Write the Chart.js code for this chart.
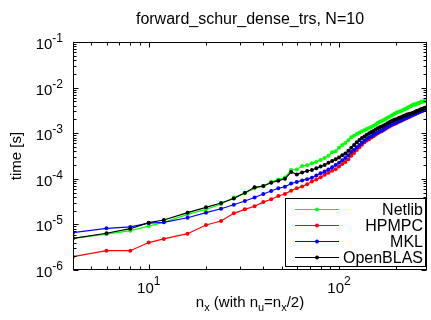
<!DOCTYPE html>
<html>
<head>
<meta charset="utf-8">
<script src="https://cdn.jsdelivr.net/npm/chart.js@4/dist/chart.umd.min.js"></script>
<style>
  html, body { margin: 0; padding: 0; background: #fff; }
  #wrap { width: 431px; height: 320px; }
</style>
</head>
<body>
<div id="wrap"><canvas id="myChart" width="431" height="320"></canvas></div>
<script>
// n_x values
const nx = [4, 6, 8, 10, 12, 16, 20, 24, 28, 32, 36, 40, 44, 48, 52, 56, 60, 64, 68, 72,
  76, 80, 84, 88, 92, 96, 100, 104, 108, 112, 116, 120, 124, 128, 132, 136, 140, 144, 148, 152,
  156, 160, 164, 168, 172, 176, 180, 184, 188, 192, 196, 200, 204, 208, 212, 216, 220, 224, 228, 232,
  236, 240, 244, 248, 252, 256, 260, 264, 268, 272, 276, 280, 284, 288];

const netlib = [4.95e-6, 6.1e-6, 7.3e-6, 9.2e-6, 1.11e-5, 1.66e-5, 2.14e-5, 2.8e-5, 3.9e-5, 4.8e-5,
  6.2e-5, 6.9e-5, 8.6e-5, 9.6e-5, 1.07e-4, 1.56e-4, 1.6e-4, 1.9e-4, 1.98e-4, 2.2e-4,
  2.35e-4, 2.6e-4, 2.85e-4, 3.2e-4, 3.8e-4, 4.0e-4, 4.8e-4, 5.5e-4, 6.1e-4, 7.0e-4,
  8.2e-4, 8.8e-4, 9.6e-4, 1.03e-3, 1.1e-3, 1.16e-3, 1.24e-3, 1.3e-3, 1.36e-3, 1.45e-3,
  1.55e-3, 1.68e-3, 1.79e-3, 1.86e-3, 1.95e-3, 2.05e-3, 2.18e-3, 2.3e-3, 2.42e-3, 2.55e-3,
  2.68e-3, 2.8e-3, 2.9e-3, 3.0e-3, 3.08e-3, 3.2e-3, 3.3e-3, 3.4e-3, 3.55e-3, 3.7e-3,
  3.85e-3, 4.0e-3, 4.16e-3, 4.3e-3, 4.2e-3, 4.45e-3, 4.55e-3, 4.65e-3, 4.75e-3, 4.85e-3,
  4.95e-3, 5.05e-3, 5.1e-3, 5.2e-3];

const hpmpc = [1.96e-6, 2.65e-6, 2.65e-6, 4.0e-6, 4.8e-6, 6.25e-6, 9.7e-6, 1.19e-5, 1.75e-5, 2.14e-5,
  2.5e-5, 3.08e-5, 3.55e-5, 4.2e-5, 4.65e-5, 5.5e-5, 6.2e-5, 6.8e-5, 7.6e-5, 8.7e-5,
  9.6e-5, 1.08e-4, 1.22e-4, 1.35e-4, 1.5e-4, 1.62e-4, 1.85e-4, 2.1e-4, 2.35e-4, 2.7e-4,
  3.2e-4, 3.7e-4, 4.3e-4, 4.9e-4, 5.6e-4, 6.3e-4, 6.9e-4, 7.4e-4, 8.0e-4, 8.6e-4,
  9.3e-4, 1.0e-3, 1.06e-3, 1.1e-3, 1.18e-3, 1.25e-3, 1.33e-3, 1.4e-3, 1.48e-3, 1.55e-3,
  1.6e-3, 1.66e-3, 1.74e-3, 1.81e-3, 1.88e-3, 1.95e-3, 2.02e-3, 2.1e-3, 2.18e-3, 2.25e-3,
  2.33e-3, 2.42e-3, 2.5e-3, 2.58e-3, 2.66e-3, 2.74e-3, 2.82e-3, 2.9e-3, 2.98e-3, 3.06e-3,
  3.14e-3, 3.22e-3, 3.3e-3, 3.36e-3];

const mkl = [6.6e-6, 8.2e-6, 8.8e-6, 1.07e-5, 1.11e-5, 1.4e-5, 1.81e-5, 2.2e-5, 2.7e-5, 3.26e-5,
  3.9e-5, 4.65e-5, 5.4e-5, 6.2e-5, 6.7e-5, 7.9e-5, 8.5e-5, 9.2e-5, 9.8e-5, 1.05e-4,
  1.18e-4, 1.32e-4, 1.45e-4, 1.6e-4, 1.8e-4, 2.0e-4, 2.25e-4, 2.55e-4, 2.85e-4, 3.3e-4,
  3.85e-4, 4.3e-4, 4.9e-4, 5.5e-4, 6.2e-4, 6.8e-4, 7.5e-4, 8.1e-4, 8.6e-4, 9.2e-4,
  9.8e-4, 1.04e-3, 1.1e-3, 1.15e-3, 1.22e-3, 1.3e-3, 1.38e-3, 1.45e-3, 1.53e-3, 1.6e-3,
  1.66e-3, 1.72e-3, 1.8e-3, 1.86e-3, 1.93e-3, 2.0e-3, 2.08e-3, 2.15e-3, 2.22e-3, 2.3e-3,
  2.38e-3, 2.45e-3, 2.52e-3, 2.6e-3, 2.68e-3, 2.75e-3, 2.83e-3, 2.92e-3, 3.0e-3, 3.08e-3,
  3.16e-3, 3.24e-3, 3.3e-3, 3.38e-3];

const openblas = [4.95e-6, 6.4e-6, 8.05e-6, 1.09e-5, 1.25e-5, 1.81e-5, 2.37e-5, 2.95e-5, 3.7e-5, 4.95e-5,
  6.5e-5, 6.95e-5, 8.2e-5, 9.1e-5, 1.0e-4, 1.41e-4, 1.25e-4, 1.38e-4, 1.48e-4, 1.56e-4,
  1.7e-4, 1.85e-4, 2.0e-4, 2.25e-4, 2.45e-4, 2.7e-4, 2.95e-4, 3.3e-4, 3.6e-4, 4.1e-4,
  4.8e-4, 5.5e-4, 6.3e-4, 7.1e-4, 7.8e-4, 8.5e-4, 9.3e-4, 1.0e-3, 1.06e-3, 1.12e-3,
  1.2e-3, 1.28e-3, 1.35e-3, 1.4e-3, 1.48e-3, 1.56e-3, 1.65e-3, 1.74e-3, 1.83e-3, 1.9e-3,
  1.96e-3, 2.02e-3, 2.1e-3, 2.18e-3, 2.25e-3, 2.32e-3, 2.4e-3, 2.48e-3, 2.56e-3, 2.62e-3,
  2.68e-3, 2.72e-3, 2.78e-3, 2.86e-3, 2.95e-3, 3.05e-3, 3.12e-3, 3.2e-3, 3.3e-3, 3.38e-3,
  3.45e-3, 3.52e-3, 3.6e-3, 3.66e-3];

const seriesNames = ["Netlib", "HPMPC", "MKL", "OpenBLAS"];
const seriesColors = ["#00ff00", "#ff0000", "#0000ff", "#000000"];
const yTickExps = [-6, -5, -4, -3, -2, -1];
const xTickExps = [1, 2];
const xMin = 4, xMax = 290, yMin = 1e-6, yMax = 1e-1;

const FONT = '"Liberation Sans", Arial, Helvetica, sans-serif';

function pts(ys) {
  return nx.map((v, i) => ({ x: v, y: ys[i] }));
}

// draws the matlab style box, inward ticks, power labels, titles and legend
const matlabAxes = {
  id: "matlabAxes",
  afterDraw(chart) {
    const ctx = chart.ctx;
    const a = chart.chartArea;
    const xs = chart.scales.x, ys = chart.scales.y;
    const L = Math.round(a.left) + 0.5, R = Math.round(a.right) - 0.5;
    const T = Math.round(a.top) + 0.5, B = Math.round(a.bottom) - 0.5;
    ctx.save();
    ctx.strokeStyle = "#000";
    ctx.lineWidth = 1;
    ctx.strokeRect(L, T, R - L, B - T);

    ctx.beginPath();
    // y ticks
    for (let e = -6; e <= -1; e++) {
      for (let m = 1; m <= 9; m++) {
        const v = m * Math.pow(10, e);
        if (v > yMax * 1.0001) break;
        const p = Math.round(ys.getPixelForValue(v)) + 0.5;
        const len = m === 1 ? 5 : 3;
        ctx.moveTo(L, p); ctx.lineTo(L + len, p);
        ctx.moveTo(R, p); ctx.lineTo(R - len, p);
      }
    }
    // x ticks
    for (let e = 0; e <= 2; e++) {
      for (let m = 1; m <= 9; m++) {
        const v = m * Math.pow(10, e);
        if (v < xMin || v > xMax) continue;
        const p = Math.round(xs.getPixelForValue(v)) + 0.5;
        const len = m === 1 ? 5 : 3;
        ctx.moveTo(p, B); ctx.lineTo(p, B - len);
        ctx.moveTo(p, T); ctx.lineTo(p, T + len);
      }
    }
    ctx.stroke();

    ctx.fillStyle = "#000";
    // y tick labels 10^e
    yTickExps.forEach(e => {
      const p = ys.getPixelForValue(Math.pow(10, e));
      ctx.font = "12px " + FONT;
      ctx.textAlign = "right";
      ctx.textBaseline = "alphabetic";
      const sup = String(e);
      ctx.fillText(sup, 63, p);
      const sw = ctx.measureText(sup).width;
      ctx.font = "15px " + FONT;
      ctx.fillText("10", 63 - sw, p + 7);
    });
    // x tick labels
    xTickExps.forEach(e => {
      const p = xs.getPixelForValue(Math.pow(10, e));
      ctx.font = "15px " + FONT;
      ctx.textAlign = "left";
      const w = ctx.measureText("10").width;
      ctx.font = "12px " + FONT;
      const sw = ctx.measureText(String(e)).width;
      const x0 = p - (w + sw) / 2;
      ctx.font = "15px " + FONT;
      ctx.fillText("10", x0, 293);
      ctx.font = "12px " + FONT;
      ctx.fillText(String(e), x0 + w, 285);
    });

    // title
    ctx.font = "16px " + FONT;
    ctx.textAlign = "center";
    ctx.fillText("forward_schur_dense_trs, N=10", (a.left + a.right) / 2, 24);

    // x axis title with subscripts
    const parts = [["n", 0], ["x", 1], [" (with n", 0], ["u", 1], ["=n", 0], ["x", 1], ["/2)", 0]];
    let total = 0;
    parts.forEach(([s, sub]) => {
      ctx.font = (sub ? "11px " : "15px ") + FONT;
      total += ctx.measureText(s).width;
    });
    let cx = (a.left + a.right) / 2 - total / 2;
    ctx.textAlign = "left";
    parts.forEach(([s, sub]) => {
      ctx.font = (sub ? "11px " : "15px ") + FONT;
      ctx.fillText(s, cx, sub ? 311 : 307);
      cx += ctx.measureText(s).width;
    });

    // y axis title
    ctx.save();
    ctx.translate(21, (a.top + a.bottom) / 2);
    ctx.rotate(-Math.PI / 2);
    ctx.font = "15px " + FONT;
    ctx.textAlign = "center";
    ctx.fillText("time [s]", 0, 0);
    ctx.restore();

    // legend
    const bx = 285.5, by = 198.5, bw = 140, bh = 68;
    ctx.fillStyle = "#fff";
    ctx.fillRect(bx, by, bw, bh);
    ctx.strokeStyle = "#000";
    ctx.strokeRect(bx, by, bw, bh);
    seriesNames.forEach((name, i) => {
      const ly = 209.5 + i * 16;
      ctx.strokeStyle = seriesColors[i];
      ctx.lineWidth = 1.2;
      ctx.beginPath();
      ctx.moveTo(295, ly); ctx.lineTo(339, ly);
      ctx.stroke();
      ctx.fillStyle = seriesColors[i];
      ctx.beginPath();
      ctx.arc(317, ly, 2, 0, Math.PI * 2);
      ctx.fill();
      ctx.fillStyle = "#000";
      ctx.font = "16px " + FONT;
      ctx.textAlign = "right";
      ctx.textBaseline = "middle";
      ctx.fillText(name, 423, ly + 1);
    });
    ctx.restore();
  }
};

const allSeries = [netlib, hpmpc, mkl, openblas];

const ctx = document.getElementById("myChart").getContext("2d");
const myChart = new Chart(ctx, {
  type: "line",
  data: {
    datasets: allSeries.map((s, i) => ({
      label: seriesNames[i],
      data: pts(s),
      borderColor: seriesColors[i],
      backgroundColor: seriesColors[i],
      borderWidth: 1.2,
      pointRadius: 2,
      pointBorderWidth: 0,
      tension: 0,
      order: 3 - i,
    })),
  },
  plugins: [matlabAxes],
  options: {
    responsive: false,
    animation: false,
    devicePixelRatio: 1,
    layout: { padding: { left: 73, right: 1, top: 42, bottom: 50 } },
    plugins: { legend: { display: false }, title: { display: false }, tooltip: { enabled: false } },
    scales: {
      x: { type: "logarithmic", min: xMin, max: xMax, display: false },
      y: { type: "logarithmic", min: yMin, max: yMax, display: false },
    },
  },
});
</script>
</body>
</html>
